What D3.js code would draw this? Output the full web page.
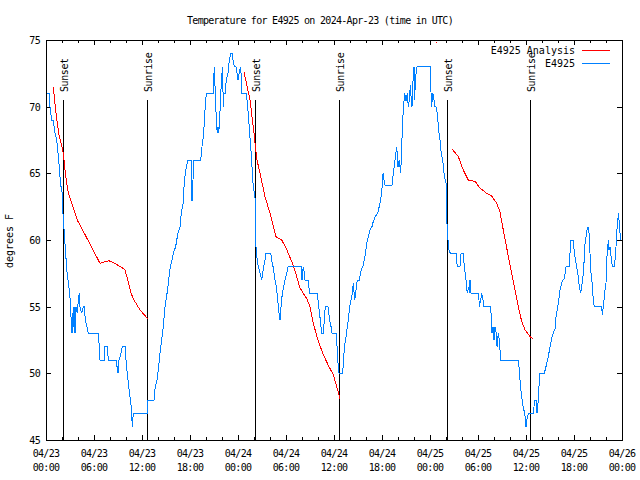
<!DOCTYPE html>
<html><head><meta charset="utf-8">
<script src="https://cdn.jsdelivr.net/npm/d3@7"></script>
<style>
body{margin:0;background:#fff;}
text{font-family:"DejaVu Sans Mono",monospace;font-size:10px;letter-spacing:-0.7px;fill:#000;}
text.wide{letter-spacing:0px;}
text.mid{letter-spacing:-0.4px;}
</style></head>
<body>
<svg id="chart" width="640" height="480"></svg>
<script>
const title = "Temperature for E4925 on 2024-Apr-23 (time in UTC)";
const yLabel = "degrees F";
const startTime = Date.UTC(2024, 3, 23, 0, 0);
const endTime = Date.UTC(2024, 3, 26, 0, 0);
const yTicks = [45, 50, 55, 60, 65, 70, 75];
const seriesNames = ["E4925 Analysis", "E4925"];
const seriesColors = ["#ff0000", "#0080ff"];
// hours since 04/23 00:00 UTC
const sunsetHours = [2.17, 26.17, 50.15];
const sunriseHours = [12.67, 36.65, 60.55];

// observed temperature [hours, degF]
const observed = [
[0.09,71],[0.41,71],[0.5,70],[0.71,69],[0.91,69],[1.13,68],[1.34,67.5],[1.59,66],[1.71,65],[1.88,64],
[2.04,63.5],[2.09,62.5],[2.16,61.5],[2.29,60.5],[2.46,59],[2.59,57.75],[2.75,57],[2.91,56.25],[3.09,55],
[3.16,53.5],[3.25,53],[3.34,54.5],[3.41,53.5],[3.5,55],[3.63,53],[3.75,55],[3.91,54.5],[4.04,55.5],
[4.16,56],[4.25,55],[4.46,54.5],[4.66,55],[4.79,55],[4.91,54],[5.13,53.5],[5.29,53],[6.54,53],[6.66,52],
[6.75,51],[7.29,51],[7.34,52],[7.63,52],[7.75,51.3],[7.84,51],[8.75,51],[8.88,50.5],[9.0,50],[9.13,51],
[9.38,51.5],[9.54,52],[9.88,52],[10.0,51],[10.16,50],[10.34,49],[10.5,48.25],[10.66,47.5],[10.79,46],
[10.88,46.75],[11.0,47],[12.63,47],[12.75,48],[13.5,48],[13.66,49],[13.88,49.5],[14.04,50.3],[14.25,51.5],
[14.46,52.5],[14.66,53.5],[14.88,55],[15.13,56],[15.34,57],[15.54,58],[15.75,58.5],[15.91,59],[16.21,59.5],
[16.34,60],[16.5,60.5],[16.75,61],[16.91,62],[17.13,62.75],[17.25,64],[17.41,65],[17.71,66],[18.13,66],
[18.21,63],[18.34,63],[18.41,66],[19.34,66],[19.5,67],[19.71,68],[19.84,69.5],[20.04,71],[20.88,71],
[20.96,72],[21.04,73],[21.16,71],[21.29,69],[21.41,68],[21.5,68.5],[21.59,68],[21.71,69],[21.84,71],
[21.96,72],[22.04,73],[22.13,71],[22.16,70],[22.25,71],[22.38,71],[22.54,72],[22.75,72.5],[22.91,73.5],
[23.09,74],[23.29,74],[23.38,73.5],[23.54,73],[23.75,73],[23.88,72.5],[24.0,72],[24.21,72.7],[24.34,73],
[24.5,71],[25.04,71],[25.21,70],[25.34,69],[25.46,68],[25.59,67],[25.71,66],[25.79,65],[25.91,64],
[26.04,63.5],[26.16,63],[26.21,60],[26.29,59],[26.41,58.5],[26.54,58],[26.75,57.5],[26.96,57],[27.09,57.5],
[27.21,58],[27.38,58.5],[27.5,59],[28.09,59],[28.21,58.5],[28.38,58],[28.5,57.5],[28.63,57],[28.79,56.5],
[28.96,55.5],[29.13,54.5],[29.25,54],[29.38,55],[29.54,56],[29.71,56.5],[29.88,57],[30.09,57.5],[30.25,58],
[31.88,58],[32.0,57],[32.16,58],[32.29,57.5],[32.38,57],[32.75,57],[32.96,56],[33.91,56],[34.09,55],
[34.29,54],[34.46,53],[34.66,53],[34.79,54],[34.91,55],[35.25,55],[35.46,54],[35.63,53.5],[35.75,53],
[36.25,53],[36.38,52],[36.5,50.75],[36.63,50],[37.04,50],[37.16,50.5],[37.29,52],[37.5,52.75],[37.66,53.5],
[37.79,54],[37.96,55],[38.13,55.5],[38.29,56],[38.41,56.75],[38.59,55.5],[38.75,56.25],[38.91,57],[39.16,57],
[39.41,57.75],[39.66,58.1],[39.91,58.9],[40.09,59.75],[40.29,60.25],[40.5,60.75],[40.75,61],[40.91,61.4],
[41.16,61.75],[41.5,62.1],[41.75,62.75],[41.96,63.5],[42.13,65],[42.25,64.5],[42.38,64.1],[43.25,64.1],
[43.41,65],[43.63,66],[43.84,67],[44.0,65.5],[44.16,66],[44.34,65],[44.54,68.25],[44.66,69.75],[44.84,71],
[45.0,70.4],[45.16,71],[45.29,70],[45.41,70.5],[45.54,71.6],[45.66,70.5],[45.75,70],[45.88,72],[46.0,73],
[46.09,70.5],[46.16,72],[46.38,73],[48.04,73],[48.13,71],[48.21,70],[48.34,71],[48.46,70.7],[48.59,70],
[48.75,70],[48.91,69.5],[49.13,68],[49.25,67.5],[49.41,66.5],[49.59,66],[49.75,65],[49.91,64.5],[50.09,64],
[50.13,61],[50.25,60],[50.38,59.25],[50.54,59],[51.25,59],[51.41,58],[51.75,58],[51.88,59],[52.16,59],
[52.29,58],[52.5,57],[52.66,56],[52.84,56.5],[52.91,56],[53.0,57],[53.13,56],[54.09,56],[54.16,55],
[54.34,55.5],[54.46,56],[54.63,55.5],[54.75,55],[55.59,55],[55.75,53],[55.88,53.5],[56.0,52.5],[56.13,53.5],
[56.29,53],[56.38,52],[56.54,53],[56.66,52.5],[56.84,51],[59.0,51],[59.13,50.5],[59.25,49.5],[59.41,48.5],
[59.63,47.5],[59.84,47],[60.0,46],[60.16,46.75],[60.34,47],[60.91,47],[61.09,48],[61.25,48],[61.38,47],
[61.54,48],[61.71,50],[62.29,50],[62.5,50.5],[62.79,51.25],[63.0,52],[63.25,52.75],[63.66,53.4],[63.75,54.25],
[63.91,54.75],[64.04,55.25],[64.25,56.25],[64.46,56.75],[64.59,57],[64.79,57.1],[65.0,58],[65.41,58],
[65.5,59],[65.59,60],[65.91,60],[66.04,59],[66.25,58.25],[66.41,57.75],[66.54,57.25],[66.66,56.45],
[66.84,56],[66.96,56.5],[67.09,57.1],[67.21,57.75],[67.34,59.5],[67.5,60.25],[67.63,60.75],[67.79,61],
[67.88,60.5],[68.0,59],[68.09,57.75],[68.29,56.6],[68.41,55.5],[68.54,55],[69.46,55],[69.54,54.4],[69.66,55],
[69.75,55.5],[69.88,56.25],[70.0,56.75],[70.09,58.5],[70.29,60],[70.38,59.25],[70.5,59.5],[70.63,58.75],
[70.79,58],[71.0,58],[71.13,58.5],[71.25,59.5],[71.34,60.5],[71.46,61.5],[71.59,62],[71.66,61],[71.75,60.5],
[71.88,60]
];

// analysis temperature segments [hours, degF]
const analysis1 = [[0.91,71.45],[1.16,70],[1.41,68.75],[1.66,67.75],[1.96,67.1],[2.16,66.5],[2.38,65.25],
[2.59,64.25],[2.79,63.5],[3.21,62.75],[3.91,61.5],[4.88,60.4],[5.88,59.25],[6.75,58.25],[7.84,58.45],
[8.75,58.2],[9.84,57.8],[10.34,56.75],[10.63,56],[11.0,55.5],[11.75,54.75],[12.71,54.1]];
const analysis2 = [[24.75,72.6],[25.5,70.5],[26.0,68],[26.34,66.1],[26.75,65],[27.38,63.25],[28.0,62],
[28.75,60.25],[29.46,60],[30.0,59.4],[30.29,59],[30.91,58.1],[31.34,57.25],[31.75,56.4],[32.59,55.6],
[33.0,55],[33.41,53.75],[34.04,52.4],[34.66,51.4],[35.29,50.6],[35.91,49.9],[36.34,49],[36.75,48.1]];
const analysis3 = [[50.79,66.8],[51.54,66.25],[52.16,65.25],[52.79,64.5],[53.63,64.4],[54.25,63.9],
[55.09,63.5],[55.71,63.3],[56.34,62.75],[56.75,62.1],[57.16,60.75],[57.59,59.4],[58.21,57.5],[58.63,56.25],
[59.04,55],[59.46,53.9],[59.88,53.25],[60.5,52.75],[60.84,52.6]];
const analysisDot = [[48.75,74.85]];

const svg = d3.select("#chart");
const L = 46, R = 622, T = 40, B = 440;
const toDate = h => new Date(startTime + h * 3600e3);
const x = d3.scaleUtc().domain([new Date(startTime), new Date(endTime)]).range([L, R]);
const y = d3.scaleLinear().domain([45, 75]).range([B, T]);

svg.append("rect").attr("width",640).attr("height",480).attr("fill","#fff");

// title
svg.append("text").attr("x",320).attr("y",24).attr("text-anchor","middle").text(title);
// y label
svg.append("text").attr("class","wide").attr("transform","translate(13,241) rotate(-90)").attr("text-anchor","middle").text(yLabel);

// ticks
const majorX = d3.utcHour.every(6).range(new Date(startTime), new Date(endTime + 1));
const minorX = d3.utcHour.every(2).range(new Date(startTime), new Date(endTime + 1));
const tk = svg.append("g").attr("stroke","#000").attr("shape-rendering","crispEdges");
minorX.forEach(d => {
  const xx = Math.round(x(d)) + 0.5;
  const len = (d.getUTCHours() % 6 === 0) ? 5 : 3;
  tk.append("line").attr("x1",xx).attr("x2",xx).attr("y1",B).attr("y2",B-len);
  tk.append("line").attr("x1",xx).attr("x2",xx).attr("y1",T).attr("y2",T+len);
});
yTicks.forEach(v => {
  const yy = Math.round(y(v)) + 0.5;
  tk.append("line").attr("x1",L).attr("x2",L+5).attr("y1",yy).attr("y2",yy);
  tk.append("line").attr("x1",R).attr("x2",R-5).attr("y1",yy).attr("y2",yy);
  svg.append("text").attr("x",40).attr("y",y(v)+4).attr("text-anchor","end").text(v);
});
const fmtD = d3.utcFormat("%m/%d"), fmtT = d3.utcFormat("%H:%M");
majorX.forEach(d => {
  const t = svg.append("text").attr("text-anchor","middle");
  t.append("tspan").attr("x",x(d)).attr("y",457).text(fmtD(d));
  t.append("tspan").attr("x",x(d)).attr("y",471).text(fmtT(d));
});

// sunrise / sunset markers
const events = sunsetHours.map(h => ({h, label:"Sunset"})).concat(sunriseHours.map(h => ({h, label:"Sunrise"})));
events.forEach(e => {
  const xx = Math.round(x(toDate(e.h))) + 0.5;
  svg.append("line").attr("x1",xx).attr("x2",xx).attr("y1",B).attr("y2",100)
    .attr("stroke","#000").attr("shape-rendering","crispEdges");
  svg.append("text").attr("class","mid").attr("transform",`translate(${xx+4.5},92) rotate(-90)`).attr("text-anchor","start").text(e.label);
});

// lines
const line = d3.line().x(d => x(toDate(d[0]))).y(d => y(d[1]));
[analysis1, analysis2, analysis3].forEach(seg => {
  svg.append("path").datum(seg).attr("d", line).attr("fill","none")
    .attr("stroke", seriesColors[0]).attr("stroke-width",1).attr("shape-rendering","crispEdges");
});
analysisDot.forEach(p => {
  svg.append("rect").attr("x",Math.round(x(toDate(p[0])))).attr("y",Math.round(y(p[1]))).attr("width",1).attr("height",1).attr("fill",seriesColors[0]);
});
svg.append("path").datum(observed).attr("d", line).attr("fill","none")
  .attr("stroke", seriesColors[1]).attr("stroke-width",1).attr("shape-rendering","crispEdges");

// frame
svg.append("rect").attr("x",L+0.5).attr("y",T+0.5).attr("width",R-L).attr("height",B-T)
  .attr("fill","none").attr("stroke","#000").attr("shape-rendering","crispEdges");

// legend
seriesNames.forEach((n, i) => {
  const yy = 50 + i * 13;
  svg.append("text").attr("class","wide").attr("x",575).attr("y",yy+4).attr("text-anchor","end").text(n);
  svg.append("line").attr("x1",582).attr("x2",610).attr("y1",yy+0.5).attr("y2",yy+0.5)
    .attr("stroke",seriesColors[i]).attr("shape-rendering","crispEdges");
});
</script>
</body></html>
